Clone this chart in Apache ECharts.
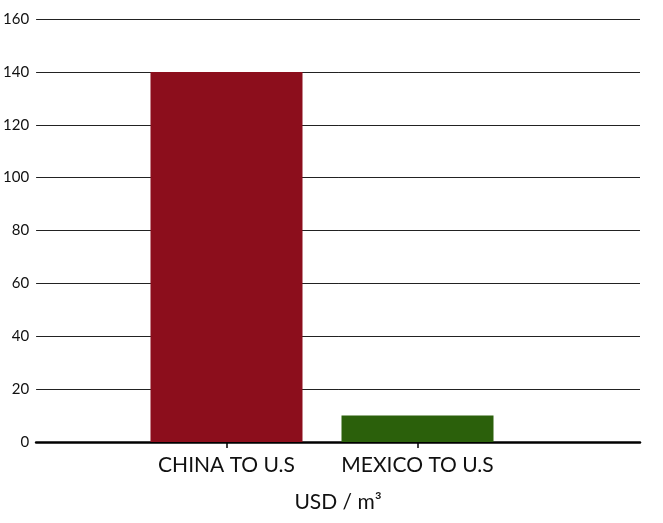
<!DOCTYPE html>
<html><head><meta charset="utf-8">
<script src="https://cdn.jsdelivr.net/npm/echarts@6/dist/echarts.min.js"></script>
<style>html,body{margin:0;padding:0;background:#fff}#c{width:663px;height:523px}</style>
</head><body><div id="c"></div>
<script>
const categories = ['CHINA TO U.S', 'MEXICO TO U.S'];
const values = [140, 10];
const barColors = ['#8C0E1C', '#2B600B'];
const yTicks = [0, 20, 40, 60, 80, 100, 120, 140, 160];
const axisTitle = 'USD / m\u00B3';

const FONT = 'Lato';
const chart = echarts.init(document.getElementById('c'));
chart.setOption({
  animation: false,
  grid: [
    {left: 32, right: 23, top: 19, bottom: 81},
    {left: 131, right: 150, top: 19, bottom: 81}
  ],
  xAxis: [
    {gridIndex: 0, type: 'value', min: 0, max: 1,
     axisLine: {show: true, onZero: false, lineStyle: {color: '#000', width: 2.5}},
     axisTick: {show: false}, axisLabel: {show: false}, splitLine: {show: false},
     name: axisTitle, nameLocation: 'middle', nameGap: 50,
     nameTextStyle: {fontFamily: FONT, fontSize: 21, color: '#111'}},
    {gridIndex: 1, type: 'category', data: categories,
     axisLine: {show: false},
     axisTick: {show: true, interval: 0, alignWithLabel: true, length: 6, lineStyle: {color: '#000', width: 1.5}},
     axisLabel: {interval: 0, hideOverlap: false, fontFamily: FONT, fontSize: 21, color: '#111', margin: 13}}
  ],
  yAxis: [
    {gridIndex: 0, type: 'value', min: yTicks[0], max: yTicks[yTicks.length-1], interval: 20,
     axisLine: {show: false}, axisTick: {show: false},
     axisLabel: {fontFamily: FONT, fontSize: 15, color: '#111', margin: 7},
     splitLine: {show: true, lineStyle: {color: '#222', width: 1}}},
    {gridIndex: 1, type: 'value', min: yTicks[0], max: yTicks[yTicks.length-1], interval: 20,
     show: false}
  ],
  series: [{
    type: 'bar', xAxisIndex: 1, yAxisIndex: 1,
    barWidth: 152,
    data: values.map((v, i) => ({value: v, itemStyle: {color: barColors[i]}}))
  }]
});
</script></body></html>
